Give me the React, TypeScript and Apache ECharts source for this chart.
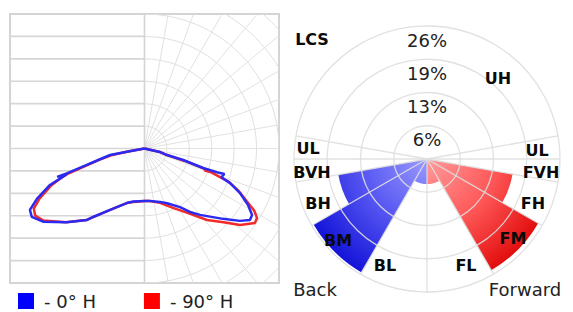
import React, { useEffect, useRef } from 'react';
import * as echarts from 'echarts';

const FONT = 'DejaVu Sans';

// ---------- Photometric (candela) plot, left ----------
// vertical angle in degrees from nadir (negative = left/back half), relative intensity
const seriesNames = ['0° H', '90° H'];
const blueAngles = [-82, -79.8, -79.3, -76.4, -74.1, -72.3, -72.0, -71.6, -68.9, -64.9, -61.8, -58.8, -54.2, -46.5, -38.9, -36.9, -29.3, -18.1, -11.9, 0, 6, 16.2, 22.4, 31.2, 35.6, 39.9, 48.1, 52.8, 55.9, 58.3, 61.4, 65, 68, 69.5, 72.3, 71.8, 71.6, 73.4, 73.7, 77.3, 82];
const blueIntensity = [0, 40, 78, 102, 134, 182, 205, 183, 226, 265, 290, 294, 279, 239, 205, 191, 157, 128, 121, 117, 118, 124, 132, 153, 174, 193, 235, 267, 284, 282, 263, 235, 206, 183, 187, 170, 138, 90, 52, 35, 0];
const redAngles = [-82, -79.5, -78.5, -76, -73.5, -72.5, -71.5, -68.5, -64.5, -61.5, -58.5, -54.5, -47, -39, -29.5, -18, -12, 0, 6, 16, 25.6, 33, 41.2, 47, 51.3, 56, 58.3, 60.5, 63, 66, 68.5, 70.4, 69.8, 71.2, 72.8, 74, 77.5, 82];
const redIntensity = [0, 40, 76, 103, 138, 160, 187, 223, 259, 281, 286, 277, 241, 205, 158, 128, 122, 117, 118, 126, 147, 170, 212, 241, 273, 297, 295, 281, 254, 228, 201, 156, 143, 143, 94, 51, 33, 0];
const intensityMax = 300;
const guideLevels = [-250, -200, -150, -100, -50, 0, 50, 100, 150, 200, 250];
const ringLevels = [50, 100, 150, 200, 250, 300, 350, 400];
const rayAngles = [0, 10, 20, 30, 40, 50, 60, 70, 80, 90, 100, 110, 120, 130, 140, 150, 160, 170, 180];

// ---------- LCS chart, right ----------
const lcsZones = ['BL', 'BM', 'BH', 'BVH', 'FL', 'FM', 'FH', 'FVH'];
const lcsFrom = [0, 30, 60, 80, 0, 30, 60, 80];
const lcsTo = [30, 60, 80, 90, 30, 60, 80, 90];
const lcsSide = [-1, -1, -1, -1, 1, 1, 1, 1];
const lcsPercent = [4.9, 25.6, 17.6, 0.4, 4.9, 25.1, 17.0, 0.4];
const lcsRings = [6.5, 13, 19.5, 26];
const lcsRays = [0, 30, -30, 60, -60, 80, -80, 90, -90, 100, -100];

const lcsLabels: [string, number, number][] = [
  ['LCS', 312, 39], ['UH', 498, 78], ['UL', 308, 148], ['UL', 537, 150],
  ['BVH', 312, 172], ['FVH', 541, 172], ['BH', 318, 203], ['FH', 533, 203],
  ['BM', 338, 240], ['FM', 513, 238], ['BL', 385, 265], ['FL', 466, 265],
];
const lcsSideLabels: [string, number, number][] = [['Back', 315, 289], ['Forward', 525, 289]];

function textEl(text: string, x: number, y: number, font: string, fill: string) {
  return {
    type: 'text', x, y, z: 20, silent: true,
    style: { text, font, fill, textAlign: 'center', textVerticalAlign: 'middle', align: 'center', verticalAlign: 'middle' },
  };
}

export default function App() {
  const ref = useRef<HTMLDivElement>(null);
  useEffect(() => {
    const chart = echarts.init(ref.current!, null, { renderer: 'svg' });
    const blueGrad = (cx: number, cy: number, r: number) =>
      new echarts.graphic.RadialGradient(cx, cy, r, [
        { offset: 0, color: '#9a9aff' }, { offset: 0.5, color: '#5656f2' }, { offset: 1, color: '#1212d8' },
      ], true);
    const redGrad = (cx: number, cy: number, r: number) =>
      new echarts.graphic.RadialGradient(cx, cy, r, [
        { offset: 0, color: '#ff9c9c' }, { offset: 0.5, color: '#ff5a5a' }, { offset: 1, color: '#e00808' },
      ], true);

    const option: any = {
      animation: false,
      grid: { left: 10, top: 14, width: 269, height: 269, show: true, borderColor: '#d4d4d4', borderWidth: 2 },
      xAxis: { type: 'value', min: -intensityMax, max: intensityMax, show: false },
      yAxis: { type: 'value', min: -intensityMax, max: intensityMax, show: false },
      polar: [
        { center: [144.5, 148.5], radius: 134.5 },
        { center: [427, 159], radius: 133 },
      ],
      angleAxis: [
        { polarIndex: 0, type: 'value', min: -180, max: 180, startAngle: 90, clockwise: false, show: false },
        { polarIndex: 1, type: 'value', min: -180, max: 180, startAngle: 90, clockwise: false, show: false },
      ],
      radiusAxis: [
        { polarIndex: 0, type: 'value', min: 0, max: intensityMax, show: false },
        { polarIndex: 1, type: 'value', min: 0, max: lcsRings[lcsRings.length - 1], show: false },
      ],
      legend: {
        left: 18, top: 292, padding: 0, icon: 'rect', itemWidth: 16, itemHeight: 16, itemGap: 48, selectedMode: false,
        data: [{ name: seriesNames[0], itemStyle: { color: '#0000ff', borderWidth: 0 } }, { name: seriesNames[1], itemStyle: { color: '#ff0000', borderWidth: 0 } }],
        formatter: (n: string) => '- ' + n,
        textStyle: { fontFamily: FONT, fontSize: 18, lineHeight: 16, color: '#222', padding: [0, 0, 0, 5] },
      },
      series: [
        {
          type: 'custom', coordinateSystem: 'cartesian2d', clip: true, silent: true, z: 1,
          data: guideLevels.map((v) => [v]),
          renderItem: (_p: any, api: any) => {
            const y = api.value(0);
            const a = api.coord([-intensityMax, y]);
            const b = api.coord([0, y]);
            return { type: 'line', shape: { x1: a[0], y1: a[1], x2: b[0], y2: b[1] }, style: { stroke: '#d6d6d6', lineWidth: 1.6 } };
          },
        },
        {
          type: 'custom', coordinateSystem: 'cartesian2d', clip: true, silent: true, z: 1,
          data: ringLevels.map((v) => [v]),
          renderItem: (_p: any, api: any) => {
            const c = api.coord([0, 0]);
            const e = api.coord([api.value(0), 0]);
            return {
              type: 'arc',
              shape: { cx: c[0], cy: c[1], r: e[0] - c[0], startAngle: -Math.PI / 2, endAngle: Math.PI / 2, clockwise: true },
              style: { stroke: '#e0e0e0', fill: null, lineWidth: 1 },
            };
          },
        },
        {
          type: 'custom', coordinateSystem: 'cartesian2d', clip: true, silent: true, z: 1,
          data: rayAngles.map((v) => [v]),
          renderItem: (_p: any, api: any) => {
            const t = (api.value(0) * Math.PI) / 180;
            const c = api.coord([0, 0]);
            const e = api.coord([450 * Math.sin(t), -450 * Math.cos(t)]);
            const isAxis = api.value(0) === 0 || api.value(0) === 180;
            return { type: 'line', shape: { x1: c[0], y1: c[1], x2: e[0], y2: e[1] }, style: { stroke: isAxis ? '#d4d4d4' : '#e2e2e2', lineWidth: isAxis ? 1.6 : 1 } };
          },
        },
        {
          name: seriesNames[1], type: 'line', coordinateSystem: 'polar', polarIndex: 0, showSymbol: false, symbol: 'none', silent: true, z: 3,
          itemStyle: { color: '#ff0000' }, lineStyle: { color: '#f22a2a', width: 2.5 },
          data: redAngles.map((a, i) => [redIntensity[i], a]),
        },
        {
          name: seriesNames[0], type: 'line', coordinateSystem: 'polar', polarIndex: 0, showSymbol: false, symbol: 'none', silent: true, z: 4,
          itemStyle: { color: '#0000ff' }, lineStyle: { color: '#2a2af2', width: 2.5 },
          data: blueAngles.map((a, i) => [blueIntensity[i], a]),
        },
        // LCS wedges
        {
          type: 'custom', coordinateSystem: 'polar', polarIndex: 1, silent: true, z: 2,
          data: lcsZones.map((z, i) => [lcsPercent[i], lcsSide[i] * lcsFrom[i], lcsSide[i] * lcsTo[i], lcsSide[i]]),
          renderItem: (params: any, api: any) => {
            const cs = params.coordSys;
            const v = api.value(0);
            if (!(v > 0)) return { type: 'group', children: [] };
            const p0 = api.coord([v, api.value(1)]);
            const p1 = api.coord([v, api.value(2)]);
            const r = Math.hypot(p0[0] - cs.cx, p0[1] - cs.cy);
            const t0 = Math.atan2(p0[1] - cs.cy, p0[0] - cs.cx);
            const t1 = Math.atan2(p1[1] - cs.cy, p1[0] - cs.cx);
            let d = t1 - t0;
            while (d > Math.PI) d -= 2 * Math.PI;
            while (d < -Math.PI) d += 2 * Math.PI;
            const fill = api.value(3) < 0 ? blueGrad(cs.cx, cs.cy, cs.r) : redGrad(cs.cx, cs.cy, cs.r);
            return {
              type: 'sector',
              shape: { cx: cs.cx, cy: cs.cy, r0: 0, r, startAngle: t0, endAngle: t0 + d, clockwise: d > 0 },
              style: { fill },
            };
          },
        },
        // LCS rays
        {
          type: 'custom', coordinateSystem: 'polar', polarIndex: 1, silent: true, z: 3,
          data: lcsRays.map((a) => [a]),
          renderItem: (params: any, api: any) => {
            const cs = params.coordSys;
            const e = api.coord([lcsRings[lcsRings.length - 1], api.value(0)]);
            return { type: 'line', shape: { x1: cs.cx, y1: cs.cy, x2: e[0], y2: e[1] }, style: { stroke: 'rgba(222,222,222,0.9)', lineWidth: 1.3 } };
          },
        },
        // LCS rings + percentage labels
        {
          type: 'custom', coordinateSystem: 'polar', polarIndex: 1, silent: true, z: 3,
          data: lcsRings.map((v) => [v]),
          renderItem: (params: any, api: any) => {
            const cs = params.coordSys;
            const v = api.value(0);
            const p = api.coord([v, 180]);
            const r = Math.hypot(p[0] - cs.cx, p[1] - cs.cy);
            return {
              type: 'group',
              children: [
                { type: 'circle', shape: { cx: cs.cx, cy: cs.cy, r }, style: { stroke: 'rgba(222,222,222,0.9)', fill: null, lineWidth: 1.3 } },
                {
                  type: 'text', x: cs.cx, y: cs.cy - r + 14, z2: 10,
                  style: { text: Math.floor(v) + '%', font: `18px "${FONT}"`, fill: '#222', textAlign: 'center', textVerticalAlign: 'middle', align: 'center', verticalAlign: 'middle' },
                },
              ],
            };
          },
        },
      ],
      graphic: [
        ...lcsLabels.map(([t, x, y]) => textEl(t, x, y, `bold 16px "${FONT}"`, '#0a0a0a')),
        ...lcsSideLabels.map(([t, x, y]) => textEl(t, x, y, `18px "${FONT}"`, '#222')),
      ],
    };
    chart.setOption(option);
    return () => chart.dispose();
  }, []);
  return (
    <div style={{ position: 'absolute', left: 0, top: 0, width: 573, height: 312, background: '#fff' }}>
      <div ref={ref} style={{ width: 573, height: 312 }} />
    </div>
  );
}
